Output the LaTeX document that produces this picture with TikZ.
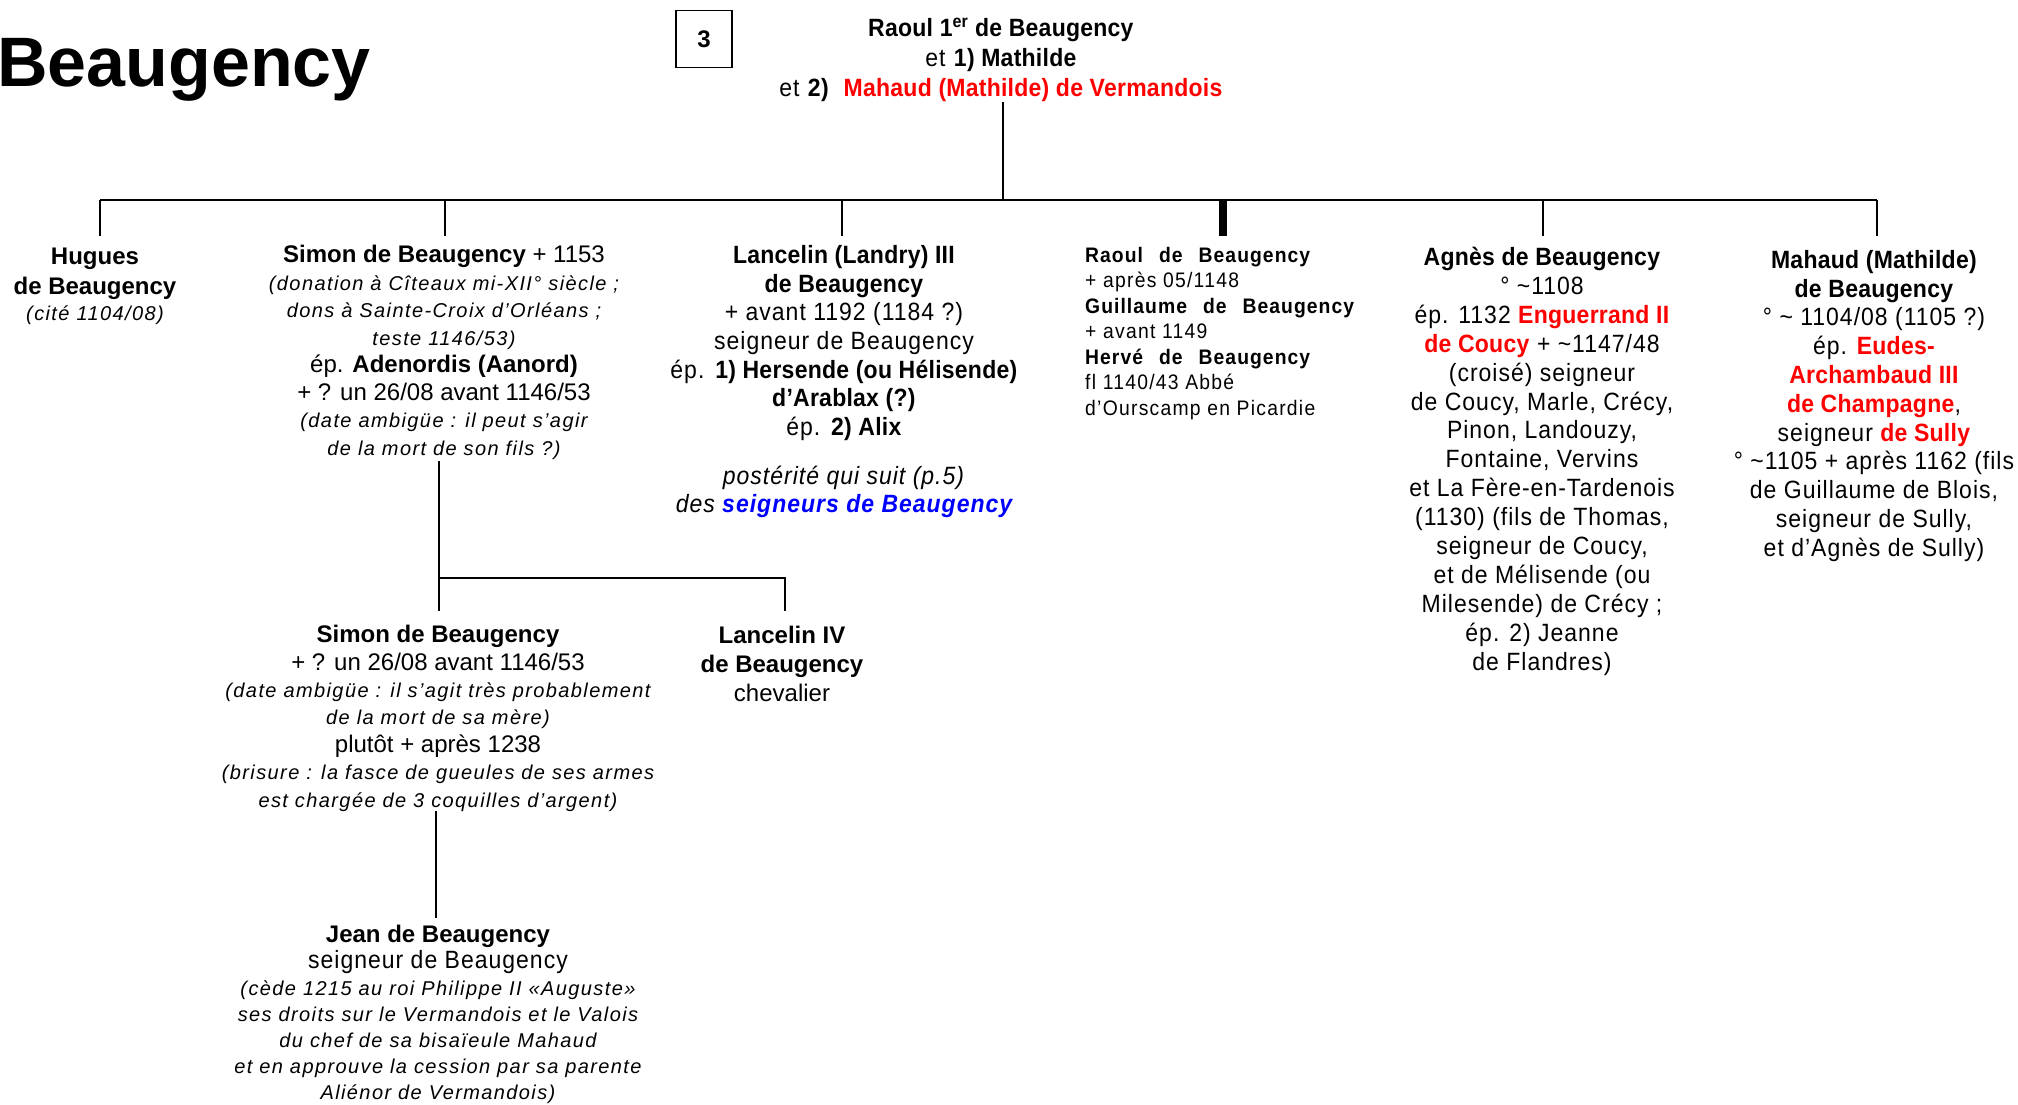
\documentclass[tikz,border=0pt]{standalone}
\usepackage{fontspec}
\setmainfont{Liberation Sans}
\newfontfamily\narrowfont[FakeStretch=0.92, LetterSpace=4, BoldFeatures={LetterSpace=1}]{Liberation Sans}
\newfontfamily\grpfont[FakeStretch=0.92, LetterSpace=6, BoldFeatures={LetterSpace=5}]{Liberation Sans}
\newfontfamily\itfont[LetterSpace=7]{Liberation Sans}
\newcommand\ital[1]{{\itfont\fontsize{20}{26}\selectfont\itshape #1}}
\newcommand\rd[1]{\textcolor{red}{\textbf{#1}}}
\newcommand\tld{\textasciitilde}
\newcommand\ws{\hspace{16pt}}
\begin{document}
\begin{tikzpicture}[x=1pt,y=-1pt,
  person/.style={anchor=north, inner sep=0pt, align=center, font=\fontsize{24}{28}\selectfont},
  link/.style={line width=1.6pt},
  barline/.style={line width=2.4pt}]
\useasboundingbox (0,0) rectangle (2018,1104);
% title and page box
\node[anchor=base west, inner sep=0pt, font=\fontsize{70}{70}\selectfont\bfseries] (title) at (-3,86) {Beaugency};
\node[draw, line width=1.1pt, minimum width=56pt, minimum height=57pt, inner sep=0pt, font=\fontsize{24}{24}\selectfont\bfseries] (pg) at (704,39) {3};
% root
\node[person, font=\narrowfont\fontsize{25}{30}\selectfont] (root) at (1001,18) {\textbf{Raoul 1\textsuperscript{er} de Beaugency}\\ et \textbf{1) Mathilde}\\ et \textbf{2)}\ \ \rd{Mahaud (Mathilde) de Vermandois}};
% children
\node[person, font=\fontsize{24}{26.5}\selectfont] (hugues) at (95,248) {\textbf{Hugues}\\[3pt] \textbf{de Beaugency}\\ \ital{(cité 1104/08)}};
\node[person, font=\fontsize{24}{27.5}\selectfont] (simon) at (444,245) {\textbf{Simon de Beaugency} + 1153\\ \ital{(donation à Cîteaux mi-XII° siècle ;}\\ \ital{dons à Sainte-Croix d’Orléans ;}\\ \ital{teste 1146/53)}\\ ép. \textbf{Adenordis (Aanord)}\\ + ? un 26/08 avant 1146/53\\ \ital{(date ambigüe : il peut s’agir}\\ \ital{de la mort de son fils ?)}};
\node[person, font=\narrowfont\fontsize{25}{28.7}\selectfont] (lancelin) at (844,245) {\textbf{Lancelin (Landry) III}\\ \textbf{de Beaugency}\\ + avant 1192 (1184 ?)\\ seigneur de Beaugency\\ ép. \textbf{1) Hersende (ou Hélisende)}\\ \textbf{d’Arablax (?)}\\ ép. \textbf{2) Alix}\\[20pt] \textit{postérité qui suit (p.5)}\\ \textit{des \textcolor{blue}{\textbf{seigneurs de Beaugency}}}};
\node[person, anchor=north west, align=left, font=\grpfont\fontsize{21}{25.5}\selectfont] (raoul) at (1085,247) {\textbf{Raoul\ws de\ws Beaugency}\\ + après 05/1148\\ \textbf{Guillaume\ws de\ws Beaugency}\\ + avant 1149\\ \textbf{Hervé\ws de\ws Beaugency}\\ fl 1140/43 Abbé\\ d’Ourscamp en Picardie};
\node[person, font=\narrowfont\fontsize{25}{28.9}\selectfont] (agnes) at (1542,247) {\textbf{Agnès de Beaugency}\\ ° \tld1108\\ ép. 1132 \rd{Enguerrand II}\\ \rd{de Coucy} + \tld1147/48\\ (croisé) seigneur\\ de Coucy, Marle, Crécy,\\ Pinon, Landouzy,\\ Fontaine, Vervins\\ et La Fère-en-Tardenois\\ (1130) (fils de Thomas,\\ seigneur de Coucy,\\ et de Mélisende (ou\\ Milesende) de Crécy ;\\ ép. 2) Jeanne\\ de Flandres)};
\node[person, font=\narrowfont\fontsize{25}{28.8}\selectfont] (mahaud) at (1874,250) {\textbf{Mahaud (Mathilde)}\\ \textbf{de Beaugency}\\ ° \tld{} 1104/08 (1105 ?)\\ ép. \rd{Eudes-}\\ \rd{Archambaud III}\\ \rd{de Champagne},\\ seigneur \rd{de Sully}\\ ° \tld1105 + après 1162 (fils\\ de Guillaume de Blois,\\ seigneur de Sully,\\ et d’Agnès de Sully)};
% grandchildren
\node[person, font=\fontsize{24}{27.4}\selectfont] (simon2) at (438,625) {\textbf{Simon de Beaugency}\\ + ? un 26/08 avant 1146/53\\ \ital{(date ambigüe : il s’agit très probablement}\\ \ital{de la mort de sa mère)}\\ plutôt + après 1238\\ \ital{(brisure : la fasce de gueules de ses armes}\\ \ital{est chargée de 3 coquilles d’argent)}};
\node[person, font=\fontsize{24}{29}\selectfont] (lancelin4) at (782,626) {\textbf{Lancelin IV}\\ \textbf{de Beaugency}\\ chevalier};
\node[person, font=\fontsize{24}{26.2}\selectfont] (jean) at (438,925) {\textbf{Jean de Beaugency}\\ {\narrowfont\fontsize{25}{26.2}\selectfont seigneur de Beaugency}\\ \ital{(cède 1215 au roi Philippe II «Auguste»}\\ \ital{ses droits sur le Vermandois et le Valois}\\ \ital{du chef de sa bisaïeule Mahaud}\\ \ital{et en approuve la cession par sa parente}\\ \ital{Aliénor de Vermandois)}};
% junction coordinates
\coordinate (rootJ) at (1003,200);
\coordinate (jH) at (100,200);  \coordinate (tH) at (100,236);
\coordinate (jS) at (445,200);  \coordinate (tS) at (445,236);
\coordinate (jL) at (842,200);  \coordinate (tL) at (842,236);
\coordinate (jR) at (1223,200); \coordinate (tR) at (1223,236);
\coordinate (jA) at (1543,200); \coordinate (tA) at (1543,236);
\coordinate (jM) at (1877,200); \coordinate (tM) at (1877,236);
\coordinate (sTop) at (439,461);
\coordinate (sJ) at (439,578);
\coordinate (sEnd) at (439,611);
\coordinate (l4J) at (785,578);
\coordinate (l4End) at (785,611);
\coordinate (s2Bot) at (436,811);
\coordinate (jTop) at (436,918);
% connectors
\draw[link] (root.south -| rootJ) -- (rootJ);
\draw[barline] (jH) -- (jM);
\draw[link] (jH) -- (tH);
\draw[link] (jS) -- (tS);
\draw[link] (jL) -- (tL);
\draw[line width=8pt] (jR) -- (tR);
\draw[link] (jA) -- (tA);
\draw[link] (jM) -- (tM);
\draw[barline] (sTop) -- (sEnd);
\draw[barline] (sJ) -- (l4J) -- (l4End);
\draw[barline] (s2Bot) -- (jTop);
\end{tikzpicture}
\end{document}
